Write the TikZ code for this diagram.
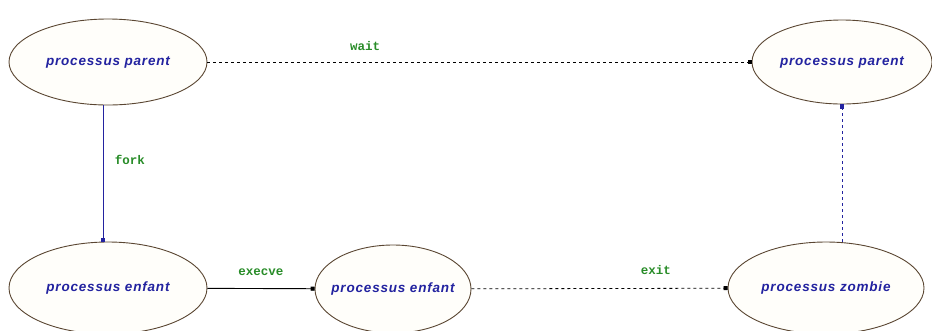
\documentclass[tikz,border=0pt]{standalone}
\usepackage{fontspec}
\setmainfont{Liberation Sans}
\newfontfamily\labfont{Liberation Mono}
\newfontfamily\procfont[LetterSpace=6]{Liberation Sans}
\usetikzlibrary{shapes.geometric,arrows.meta}
\definecolor{navyblue}{RGB}{35,35,160}
\definecolor{lblgreen}{RGB}{40,140,40}
\definecolor{edgebrown}{RGB}{90,70,50}
\definecolor{cream}{RGB}{255,254,250}
\tikzset{
  proc/.style={ellipse, draw=edgebrown, fill=cream, line width=0.9pt,
    font=\procfont\fontsize{13.5}{15}\selectfont\bfseries\itshape, text=navyblue,
    inner xsep=-25pt, inner ysep=0pt},
  lbl/.style={font=\labfont\fontsize{12.5}{14}\selectfont\bfseries, text=lblgreen},
  tip/.style={-{Square[length=4pt,width=4pt]}},
}
\begin{document}
\begin{tikzpicture}[x=1pt,y=-1pt]
\useasboundingbox (0,0) rectangle (932,330);
\node[proc, minimum width=198pt, minimum height=86pt] (pp1) at (108,62) {processus parent};
\node[proc, minimum width=180pt, minimum height=84pt] (pp2) at (842,62) {processus parent};
\node[proc, minimum width=198pt, minimum height=92pt] (pe1) at (108,288) {processus enfant};
\node[proc, minimum width=156pt, minimum height=88pt] (pe2) at (393,289) {processus enfant};
\node[proc, minimum width=196pt, minimum height=92pt] (pz) at (826,288) {processus zombie};
\draw[tip, dashed, black, line width=0.8pt] (pp1) -- (pp2) node[lbl, pos=0.29, above=8pt] {wait};
\draw[tip, navyblue, line width=0.9pt] (pp1.south -| 103,0) -- (pe1.north -| 103,0) node[lbl, pos=0.4, right=8pt] {fork};
\draw[tip, black, line width=0.9pt] (pe1) -- (pe2) node[lbl, midway, above=9pt] {execve};
\draw[tip, dashed, black, line width=0.8pt] (pe2) -- (pz) node[lbl, pos=0.72, above=10pt] {exit};
\draw[tip, dashed, navyblue, line width=0.9pt] (pz.north -| 842,0) -- (pp2.south -| 842,0);
\end{tikzpicture}
\end{document}
